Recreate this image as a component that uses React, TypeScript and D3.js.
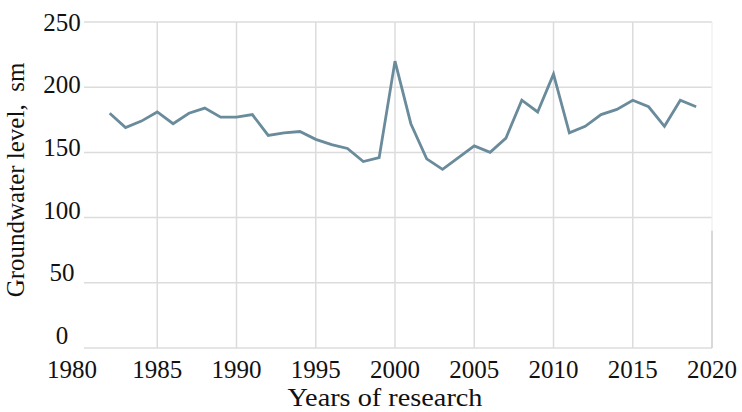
import React, { useEffect, useRef } from 'react';
import * as d3 from 'd3';

const years = [
  1982, 1983, 1984, 1985, 1986, 1987, 1988, 1989, 1990, 1991,
  1992, 1993, 1994, 1995, 1996, 1997, 1998, 1999, 2000, 2001,
  2002, 2003, 2004, 2005, 2006, 2007, 2008, 2009, 2010, 2011,
  2012, 2013, 2014, 2015, 2016, 2017, 2018, 2019,
];
const levels = [
  180, 169, 174, 181, 172, 180, 184, 177, 177, 179,
  163, 165, 166, 160, 156, 153, 143, 146, 220, 172,
  145, 137, 146, 155, 150, 161, 190, 181, 210, 165,
  170, 179, 183, 190, 185, 170, 190, 185,
];
const xTicks = [1980, 1985, 1990, 1995, 2000, 2005, 2010, 2015, 2020];
const yTicks = [0, 50, 100, 150, 200, 250];

const W = 742;
const H = 412;

const App: React.FC = () => {
  const svgRef = useRef<SVGSVGElement>(null);

  useEffect(() => {
    const svg = d3.select(svgRef.current);
    svg.selectAll('*').remove();

    const x = d3.scaleLinear().domain([1980, 2020]).range([78, 712]);
    const y = d3.scaleLinear().domain([0, 250]).range([348, 22]);
    // labels in the picture drift a bit above their gridlines
    const yLab = d3.scaleLinear().domain([0, 250]).range([335, 22]);

    const font = '"Liberation Serif", "Times New Roman", serif';
    const grid = '#dcdcdc';

    svg.append('rect').attr('width', W).attr('height', H).attr('fill', '#fff');

    // horizontal gridlines
    svg.append('g')
      .selectAll('line')
      .data(yTicks)
      .join('line')
      .attr('x1', 84)
      .attr('x2', x(2020))
      .attr('y1', d => y(d))
      .attr('y2', d => y(d))
      .attr('stroke', grid)
      .attr('stroke-width', 1.5);

    // vertical gridlines
    svg.append('g')
      .selectAll('line')
      .data(xTicks.filter(d => d > 1980 && d < 2020))
      .join('line')
      .attr('x1', d => x(d))
      .attr('x2', d => x(d))
      .attr('y1', y(250))
      .attr('y2', y(0))
      .attr('stroke', grid)
      .attr('stroke-width', 1.5);

    // right edge, faint on top and stronger lower down
    svg.append('line')
      .attr('x1', x(2020)).attr('x2', x(2020))
      .attr('y1', y(250)).attr('y2', y(90))
      .attr('stroke', '#eeeeee').attr('stroke-width', 1.2);
    svg.append('line')
      .attr('x1', x(2020)).attr('x2', x(2020))
      .attr('y1', y(90)).attr('y2', y(0))
      .attr('stroke', '#cccccc').attr('stroke-width', 1.5);

    const line = d3.line<number>()
      .x((d, i) => x(years[i]))
      .y(d => y(d));

    svg.append('path')
      .datum(levels)
      .attr('d', line)
      .attr('fill', 'none')
      .attr('stroke', '#6a8b9b')
      .attr('stroke-width', 2.8)
      .attr('stroke-linejoin', 'miter');

    // y tick labels
    svg.append('g')
      .selectAll('text')
      .data(yTicks)
      .join('text')
      .attr('x', 62)
      .attr('y', d => yLab(d))
      .attr('dy', '0.35em')
      .attr('text-anchor', 'middle')
      .attr('font-family', font)
      .attr('font-size', 25)
      .attr('fill', '#111')
      .text(d => d);

    // x tick labels
    svg.append('g')
      .selectAll('text')
      .data(xTicks)
      .join('text')
      .attr('x', d => x(d) - (d === 1980 ? 6 : 0))
      .attr('y', 378)
      .attr('text-anchor', 'middle')
      .attr('font-family', font)
      .attr('font-size', 25)
      .attr('fill', '#111')
      .text(d => d);

    svg.append('text')
      .attr('x', 385)
      .attr('y', 406)
      .attr('text-anchor', 'middle')
      .attr('font-family', font)
      .attr('font-size', 25)
      .attr('fill', '#111')
      .attr('textLength', 195)
      .attr('lengthAdjust', 'spacingAndGlyphs')
      .text('Years of research');

    svg.append('text')
      .attr('transform', 'translate(24,180) rotate(-90)')
      .attr('text-anchor', 'middle')
      .attr('font-family', font)
      .attr('font-size', 25)
      .attr('fill', '#111')
      .style('white-space', 'pre')
      .text('Groundwater level,  sm');
  }, []);

  return (
    <div style={{ position: 'fixed', left: 0, top: 0 }}>
      <svg ref={svgRef} width={W} height={H} />
    </div>
  );
};

export default App;
